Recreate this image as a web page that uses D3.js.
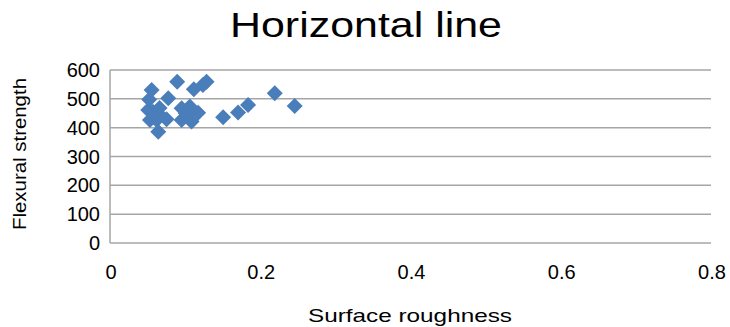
<!DOCTYPE html>
<html><head><meta charset="utf-8">
<script src="https://cdn.jsdelivr.net/npm/d3@7"></script>
<style>body{margin:0;background:#fff}svg{display:block}text{font-family:"Liberation Sans",Arial,sans-serif;fill:#000}</style>
</head><body>
<script>
const roughness = [0.0554,0.0894,0.0775,0.1116,0.1285,0.1236,0.0522,0.0509,0.0571,0.0638,0.0532,0.0621,0.0753,0.0953,0.1063,0.0953,0.1086,0.1173,0.0642,0.1506,0.1705,0.1838,0.2193,0.2458,0.101,0.066];
const strength  = [531,559,502,533,559,548,498,461,455,451,427,427,429,467,473,427,421,452,386,436,453,479,519,475,450,468];
const xTicks = [0,0.2,0.4,0.6,0.8];
const xTickLabels = ["0","0.2","0.4","0.6","0.8"];
const yTicks = [0,100,200,300,400,500,600];

const W=730,H=327;
const svg=d3.select("body").append("svg").attr("width",W).attr("height",H);
const x=d3.scaleLinear().domain([0,0.8]).range([110,711]);
const y=d3.scaleLinear().domain([0,600]).range([243,70]);

// gridlines
svg.append("g").selectAll("line").data(yTicks).join("line")
  .attr("x1",x(0)).attr("x2",x(0.8)).attr("y1",d=>y(d)).attr("y2",d=>y(d))
  .attr("stroke","#a6a6a6").attr("stroke-width",1.5);
svg.append("line").attr("x1",x(0)).attr("x2",x(0)).attr("y1",y(0)).attr("y2",y(600))
  .attr("stroke","#a6a6a6").attr("stroke-width",1.5);

// y tick labels
svg.append("g").selectAll("text").data(yTicks).join("text")
  .attr("x",x(0)-10).attr("y",d=>y(d)).attr("dy","0.35em").attr("text-anchor","end")
  .attr("font-size",20).attr("fill","#3a3a3a").text(d=>d);
// x tick labels
svg.append("g").selectAll("text").data(xTicks).join("text")
  .attr("x",(d)=>x(d)+1).attr("y",272).attr("dy","0.35em").attr("text-anchor","middle")
  .attr("font-size",20).attr("fill","#3a3a3a").text((d,i)=>xTickLabels[i]);

// titles
svg.append("text").attr("x",366).attr("y",37).attr("text-anchor","middle")
  .attr("font-size",35).attr("textLength",272).attr("lengthAdjust","spacingAndGlyphs").text("Horizontal line");
svg.append("text").attr("x",410).attr("y",322).attr("text-anchor","middle")
  .attr("font-size",19).attr("textLength",204).attr("lengthAdjust","spacingAndGlyphs").text("Surface roughness");
svg.append("text").attr("transform","translate(26,154) rotate(-90)").attr("text-anchor","middle")
  .attr("font-size",19).attr("textLength",152).attr("lengthAdjust","spacingAndGlyphs").text("Flexural strength");

// markers
const r=8;
svg.append("g").selectAll("path").data(roughness.map((v,i)=>[v,strength[i]])).join("path")
  .attr("d",d=>{const cx=x(d[0]),cy=y(d[1]);return `M${cx},${cy-r}L${cx+r},${cy}L${cx},${cy+r}L${cx-r},${cy}Z`;})
  .attr("fill","#4a7ebb");
</script>
</body></html>
